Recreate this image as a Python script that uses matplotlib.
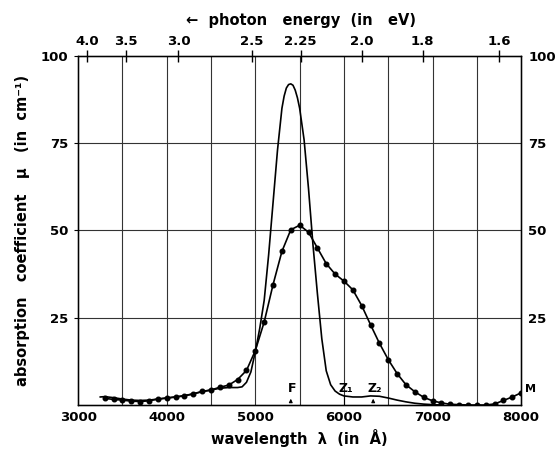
import matplotlib
matplotlib.use("Agg")
import matplotlib.pyplot as plt

# ---- data ----
# curve with measured points (dots)
wl_pts = [3300, 3400, 3500, 3600, 3700, 3800, 3900, 4000, 4100, 4200,
          4300, 4400, 4500, 4600, 4700, 4800, 4900, 5000, 5100, 5200,
          5300, 5400, 5500, 5600, 5700, 5800, 5900, 6000, 6100, 6200,
          6300, 6400, 6500, 6600, 6700, 6800, 6900, 7000, 7100, 7200,
          7300, 7400, 7500, 7600, 7700, 7800, 7900, 8000]
mu_pts = [1.9, 1.6, 1.4, 1.1, 1.0, 1.2, 1.7, 2.0, 2.3, 2.6,
          3.2, 3.9, 4.3, 5.1, 5.7, 7.3, 9.9, 15.6, 23.8, 34.5,
          44.0, 50.2, 51.5, 49.5, 45.0, 40.5, 37.5, 35.5, 33.0, 28.5,
          23.0, 17.7, 13.0, 9.0, 5.8, 3.8, 2.2, 1.2, 0.6, 0.2,
          0.1, 0.0, 0.0, 0.0, 0.3, 1.3, 2.3, 3.5]

# sharp band (solid line, no markers)
wl_line = [3250, 3300, 3400, 3500, 3600, 3700, 3800, 3900, 4000, 4100,
           4200, 4300, 4400, 4500, 4600, 4700, 4800, 4850, 4900, 4950,
           5000, 5050, 5100, 5150, 5200, 5250, 5300, 5325, 5350, 5375,
           5400, 5425, 5450, 5475, 5500, 5550, 5600, 5650, 5700, 5750,
           5800, 5850, 5900, 5950, 6000, 6100, 6200, 6300, 6400, 6500,
           6600, 6700, 6800, 6900, 7000, 7100]
mu_line = [2.3, 2.4, 2.1, 1.7, 1.4, 1.3, 1.4, 1.7, 2.0, 2.3,
           2.7, 3.2, 3.8, 4.3, 4.8, 5.0, 5.0, 5.2, 6.5, 9.5,
           15.3, 22.0, 30.0, 43.0, 58.0, 73.0, 85.0, 88.5, 90.8, 91.8,
           92.0, 91.6, 90.2, 88.0, 85.0, 76.0, 62.0, 46.0, 32.0, 19.0,
           9.8, 5.8, 4.0, 3.1, 2.6, 2.3, 2.3, 2.6, 2.5, 2.0,
           1.4, 0.9, 0.5, 0.25, 0.1, 0.0]

x_ticks = [3000, 4000, 5000, 6000, 7000, 8000]
y_ticks = [25, 50, 75, 100]
energies = [4.0, 3.5, 3.0, 2.5, 2.25, 2.0, 1.8, 1.6]
energy_labels = ["4.0", "3.5", "3.0", "2.5", "2.25", "2.0", "1.8", "1.6"]

# marked bands: label, wavelength, height of the marker line, arrow?
bands = [("F", 5400, 2.6, True), ("Z\u2081", 6000, 2.6, False),
         ("Z\u2082", 6330, 2.6, True)]

HC = 12398.0  # eV * Angstrom

FONT = dict(family="DejaVu Sans", weight="bold")


def main():
    fig = plt.figure(figsize=(5.58, 4.51), dpi=100)
    ax = fig.add_axes([0.140, 0.102, 0.794, 0.774])

    for x in range(3500, 8000, 500):
        ax.axvline(x, color="#333333", lw=0.8, zorder=1)
    for y in [25, 50, 75]:
        ax.axhline(y, color="#333333", lw=0.8, zorder=1)

    ax.plot(wl_line, mu_line, color="black", lw=1.2, zorder=3)
    ax.plot(wl_pts, mu_pts, color="black", lw=1.2, marker="o", ms=3.3,
            zorder=4)

    ax.set_xlim(3000, 8000)
    ax.set_ylim(0, 100)
    ax.set_xticks(x_ticks)
    ax.set_yticks(y_ticks)
    ax.tick_params(axis="both", length=0, pad=4)
    ax.tick_params(axis="y", length=3, direction="out")
    for lab in ax.get_xticklabels() + ax.get_yticklabels():
        lab.set_fontweight("bold")
        lab.set_fontsize(9.5)
    for s in ax.spines.values():
        s.set_linewidth(1.0)

    # right-hand scale
    axr = ax.twinx()
    axr.set_ylim(0, 100)
    axr.set_yticks(y_ticks)
    axr.tick_params(axis="y", length=0, pad=5)
    for lab in axr.get_yticklabels():
        lab.set_fontweight("bold")
        lab.set_fontsize(9.5)

    # photon energy scale on top
    axt = ax.twiny()
    axt.set_xlim(3000, 8000)
    axt.set_xticks([HC / e for e in energies])
    axt.set_xticklabels(energy_labels)
    axt.tick_params(axis="x", direction="inout", length=9, width=1.0, pad=1)
    for lab in axt.get_xticklabels():
        lab.set_fontweight("bold")
        lab.set_fontsize(9.5)

    # band markers
    for name, wl, h, arrow in bands:
        if arrow:
            ax.annotate("", xy=(wl, h), xytext=(wl, 0),
                        arrowprops=dict(arrowstyle="-|>", lw=0.8,
                                        mutation_scale=5, color="black"))
        else:
            ax.plot([wl, wl], [0, h], color="black", lw=0.8)
        ax.text(wl + 20, h + 0.3, name, ha="center", va="bottom",
                fontsize=9, **FONT)
    ax.text(wl_pts[-1] + 40, mu_pts[-1] + 1.0, "M", ha="left", va="center",
            fontsize=8, **FONT)

    ax.set_xlabel("wavelength  \u03bb  (in  \u00c5)", fontsize=10.5,
                  labelpad=4, **FONT)
    ax.set_ylabel("absorption   coefficient   \u03bc   (in  cm\u207b\u00b9)",
                  fontsize=10.5, labelpad=8, **FONT)
    fig.text(0.54, 0.955, "\u2190  photon   energy  (in   eV)",
             ha="center", va="center", fontsize=10.5, **FONT)

    fig.savefig("out.png", dpi=100)
    plt.close(fig)


if __name__ == "__main__":
    main()
